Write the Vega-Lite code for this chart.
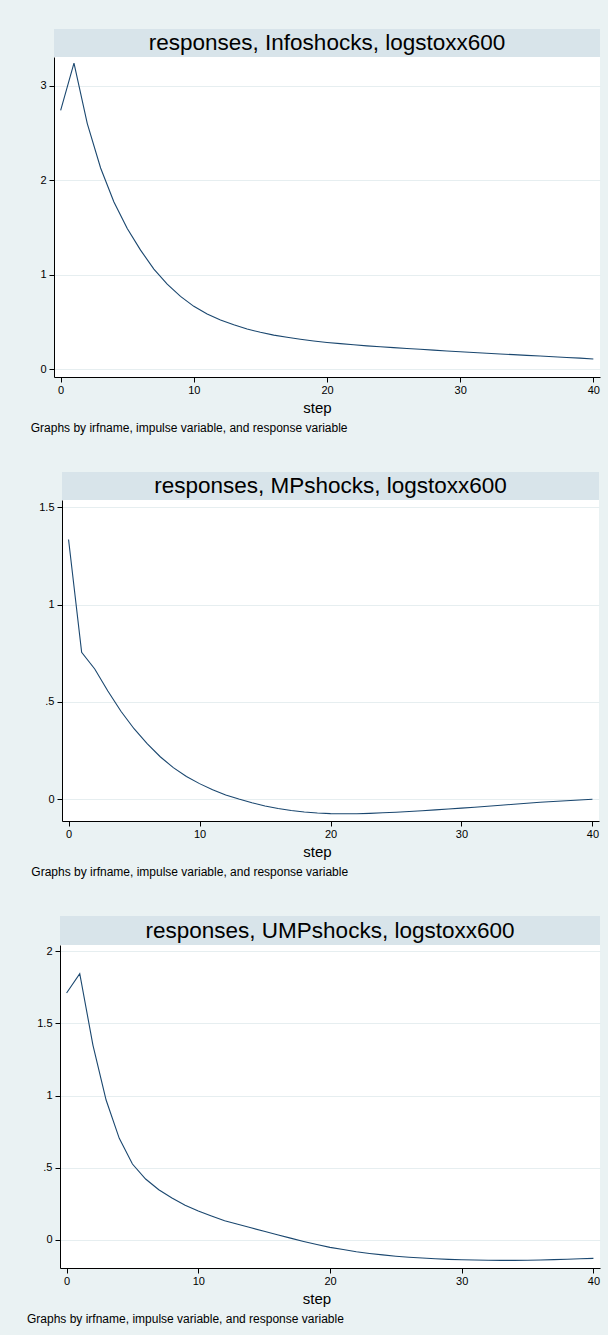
{
  "$schema": "https://vega.github.io/schema/vega-lite/v6.json",
  "background": "#EAF2F3",
  "padding": {"left": 20, "top": 29, "right": 8, "bottom": 10},
  "config": {
    "font": "Liberation Sans",
    "view": {"stroke": null},
    "axis": {
      "domainColor": "black", "domainWidth": 1, "tickColor": "black", "tickWidth": 1, "tickSize": 5,
      "labelColor": "black", "labelFontSize": 11, "labelPadding": 2, "labelFlush": false,
      "titleColor": "black", "titleFontSize": 15, "titleFontWeight": "normal", "titlePadding": 5,
      "gridColor": "#E6EEF0", "gridWidth": 1
    },
    "axisY": {"labelPadding": 3, "labelAngle": 0}
  },
  "datasets": {
    "p1": [
      {"step": 0, "irf": 2.74}, {"step": 1, "irf": 3.24}, {"step": 2, "irf": 2.60}, {"step": 3, "irf": 2.13},
      {"step": 4, "irf": 1.77}, {"step": 5, "irf": 1.49}, {"step": 6, "irf": 1.26}, {"step": 7, "irf": 1.06},
      {"step": 8, "irf": 0.90}, {"step": 9, "irf": 0.77}, {"step": 10, "irf": 0.665}, {"step": 11, "irf": 0.585},
      {"step": 12, "irf": 0.52}, {"step": 13, "irf": 0.47}, {"step": 14, "irf": 0.425}, {"step": 15, "irf": 0.39},
      {"step": 16, "irf": 0.36}, {"step": 17, "irf": 0.337}, {"step": 18, "irf": 0.316}, {"step": 19, "irf": 0.298},
      {"step": 20, "irf": 0.283}, {"step": 21, "irf": 0.27}, {"step": 22, "irf": 0.258}, {"step": 23, "irf": 0.247},
      {"step": 24, "irf": 0.237}, {"step": 25, "irf": 0.228}, {"step": 26, "irf": 0.219}, {"step": 27, "irf": 0.21},
      {"step": 28, "irf": 0.202}, {"step": 29, "irf": 0.193}, {"step": 30, "irf": 0.185}, {"step": 31, "irf": 0.177},
      {"step": 32, "irf": 0.169}, {"step": 33, "irf": 0.161}, {"step": 34, "irf": 0.154}, {"step": 35, "irf": 0.146},
      {"step": 36, "irf": 0.139}, {"step": 37, "irf": 0.131}, {"step": 38, "irf": 0.124}, {"step": 39, "irf": 0.117},
      {"step": 40, "irf": 0.108}
    ],
    "p2": [
      {"step": 0, "irf": 1.334}, {"step": 1, "irf": 0.755}, {"step": 2, "irf": 0.669}, {"step": 3, "irf": 0.556},
      {"step": 4, "irf": 0.452}, {"step": 5, "irf": 0.362}, {"step": 6, "irf": 0.285}, {"step": 7, "irf": 0.218},
      {"step": 8, "irf": 0.162}, {"step": 9, "irf": 0.117}, {"step": 10, "irf": 0.080}, {"step": 11, "irf": 0.048},
      {"step": 12, "irf": 0.022}, {"step": 13, "irf": 0.001}, {"step": 14, "irf": -0.018}, {"step": 15, "irf": -0.035},
      {"step": 16, "irf": -0.048}, {"step": 17, "irf": -0.058}, {"step": 18, "irf": -0.066}, {"step": 19, "irf": -0.071},
      {"step": 20, "irf": -0.074}, {"step": 21, "irf": -0.075}, {"step": 22, "irf": -0.075}, {"step": 23, "irf": -0.073},
      {"step": 24, "irf": -0.070}, {"step": 25, "irf": -0.067}, {"step": 26, "irf": -0.063}, {"step": 27, "irf": -0.059},
      {"step": 28, "irf": -0.055}, {"step": 29, "irf": -0.050}, {"step": 30, "irf": -0.046}, {"step": 31, "irf": -0.041},
      {"step": 32, "irf": -0.036}, {"step": 33, "irf": -0.031}, {"step": 34, "irf": -0.026}, {"step": 35, "irf": -0.021},
      {"step": 36, "irf": -0.016}, {"step": 37, "irf": -0.012}, {"step": 38, "irf": -0.008}, {"step": 39, "irf": -0.004},
      {"step": 40, "irf": 0.0}
    ],
    "p3": [
      {"step": 0, "irf": 1.711}, {"step": 1, "irf": 1.845}, {"step": 2, "irf": 1.350}, {"step": 3, "irf": 0.969},
      {"step": 4, "irf": 0.703}, {"step": 5, "irf": 0.525}, {"step": 6, "irf": 0.421}, {"step": 7, "irf": 0.347},
      {"step": 8, "irf": 0.289}, {"step": 9, "irf": 0.240}, {"step": 10, "irf": 0.200}, {"step": 11, "irf": 0.165},
      {"step": 12, "irf": 0.132}, {"step": 13, "irf": 0.108}, {"step": 14, "irf": 0.083}, {"step": 15, "irf": 0.059},
      {"step": 16, "irf": 0.035}, {"step": 17, "irf": 0.011}, {"step": 18, "irf": -0.012}, {"step": 19, "irf": -0.033},
      {"step": 20, "irf": -0.053}, {"step": 21, "irf": -0.068}, {"step": 22, "irf": -0.083}, {"step": 23, "irf": -0.095},
      {"step": 24, "irf": -0.105}, {"step": 25, "irf": -0.114}, {"step": 26, "irf": -0.121}, {"step": 27, "irf": -0.127},
      {"step": 28, "irf": -0.132}, {"step": 29, "irf": -0.136}, {"step": 30, "irf": -0.139}, {"step": 31, "irf": -0.141},
      {"step": 32, "irf": -0.142}, {"step": 33, "irf": -0.143}, {"step": 34, "irf": -0.143}, {"step": 35, "irf": -0.142},
      {"step": 36, "irf": -0.140}, {"step": 37, "irf": -0.138}, {"step": 38, "irf": -0.135}, {"step": 39, "irf": -0.132},
      {"step": 40, "irf": -0.129}
    ]
  },
  "vconcat": [
    {
      "spacing": 0,
      "hconcat": [
        {"data": {"values": [{}]}, "width": 10, "height": 20, "mark": {"type": "text", "text": ""}, "encoding": {}},
        {
          "spacing": 0,
          "vconcat": [
            {
              "data": {"values": [{"t": "responses, Infoshocks, logstoxx600"}]},
              "width": 546, "height": 28,
              "view": {"fill": "#D8E4EA", "stroke": null},
              "mark": {"type": "text", "fontSize": 22.5, "color": "black"},
              "encoding": {"text": {"field": "t", "type": "nominal"}}
            },
            {
              "data": {"name": "p1"},
              "width": 546, "height": 320,
              "view": {"fill": "white", "stroke": null},
              "title": {"text": "Graphs by irfname, impulse variable, and response variable", "orient": "bottom", "anchor": "start", "frame": "group", "dx": -23.3, "offset": 8, "fontSize": 12, "fontWeight": "normal", "color": "black"},
              "mark": {"type": "line", "color": "#1A476F", "strokeWidth": 1.1},
              "encoding": {
                "x": {"field": "step", "type": "quantitative", "scale": {"domain": [-0.5, 40.5], "nice": false, "zero": false},
                      "axis": {"values": [0, 10, 20, 30, 40], "title": "step", "titleX": 263, "grid": false}},
                "y": {"field": "irf", "type": "quantitative", "scale": {"domain": [-0.083, 3.305], "nice": false, "zero": false},
                      "axis": {"values": [0, 1, 2, 3], "title": null, "grid": true, "format": "~g", "minExtent": 23.3, "maxExtent": 23.3}}
              }
            }
          ]
        }
      ]
    },
    {
      "spacing": 0,
      "hconcat": [
        {"data": {"values": [{}]}, "width": 11, "height": 20, "mark": {"type": "text", "text": ""}, "encoding": {}},
        {
          "spacing": 0,
          "vconcat": [
            {
              "data": {"values": [{"t": "responses, MPshocks, logstoxx600"}]},
              "width": 537, "height": 28,
              "view": {"fill": "#D8E4EA", "stroke": null},
              "mark": {"type": "text", "fontSize": 22.5, "color": "black"},
              "encoding": {"text": {"field": "t", "type": "nominal"}}
            },
            {
              "data": {"name": "p2"},
              "width": 537, "height": 321,
              "view": {"fill": "white", "stroke": null},
              "title": {"text": "Graphs by irfname, impulse variable, and response variable", "orient": "bottom", "anchor": "start", "frame": "group", "dx": -30.7, "offset": 8, "fontSize": 12, "fontWeight": "normal", "color": "black"},
              "mark": {"type": "line", "color": "#1A476F", "strokeWidth": 1.1},
              "encoding": {
                "x": {"field": "step", "type": "quantitative", "scale": {"domain": [-0.5, 40.5], "nice": false, "zero": false},
                      "axis": {"values": [0, 10, 20, 30, 40], "title": "step", "titleX": 255, "grid": false}},
                "y": {"field": "irf", "type": "quantitative", "scale": {"domain": [-0.112, 1.537], "nice": false, "zero": false},
                      "axis": {"values": [0, 0.5, 1, 1.5], "title": null, "grid": true, "format": "~g", "labelExpr": "datum.value == 0.5 ? '.5' : datum.label", "minExtent": 30.7, "maxExtent": 30.7}}
              }
            }
          ]
        }
      ]
    },
    {
      "spacing": 0,
      "hconcat": [
        {"data": {"values": [{}]}, "width": 7, "height": 20, "mark": {"type": "text", "text": ""}, "encoding": {}},
        {
          "spacing": 0,
          "vconcat": [
            {
              "data": {"values": [{"t": "responses, UMPshocks, logstoxx600"}]},
              "width": 540, "height": 29,
              "view": {"fill": "#D8E4EA", "stroke": null},
              "mark": {"type": "text", "fontSize": 22.5, "color": "black"},
              "encoding": {"text": {"field": "t", "type": "nominal"}}
            },
            {
              "data": {"name": "p3"},
              "width": 540, "height": 323,
              "view": {"fill": "white", "stroke": null},
              "title": {"text": "Graphs by irfname, impulse variable, and response variable", "orient": "bottom", "anchor": "start", "frame": "group", "dx": -33, "offset": 8, "fontSize": 12, "fontWeight": "normal", "color": "black"},
              "mark": {"type": "line", "color": "#1A476F", "strokeWidth": 1.1},
              "encoding": {
                "x": {"field": "step", "type": "quantitative", "scale": {"domain": [-0.5, 40.5], "nice": false, "zero": false},
                      "axis": {"values": [0, 10, 20, 30, 40], "title": "step", "titleX": 256.5, "grid": false}},
                "y": {"field": "irf", "type": "quantitative", "scale": {"domain": [-0.196, 2.044], "nice": false, "zero": false},
                      "axis": {"values": [0, 0.5, 1, 1.5, 2], "title": null, "grid": true, "format": "~g", "labelExpr": "datum.value == 0.5 ? '.5' : datum.label", "minExtent": 33, "maxExtent": 33}}
              }
            }
          ]
        }
      ]
    }
  ],
  "spacing": 38
}
